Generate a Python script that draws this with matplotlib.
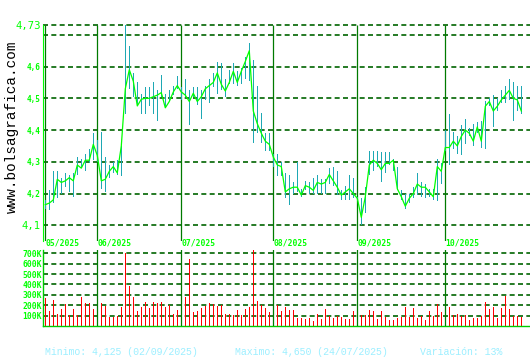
import matplotlib
matplotlib.use("Agg")
from matplotlib import pyplot as plt
from matplotlib.transforms import blended_transform_factory

# daily data, 14/05/2025 .. 28/10/2025
closes = [4.165,
          4.17, 4.18, 4.245, 4.235, 4.24, 4.25, 4.24, 4.29, 4.28, 4.305, 4.305, 4.355,
          4.32, 4.24, 4.245, 4.27, 4.285, 4.265, 4.35, 4.53, 4.59, 4.554, 4.476, 4.497,
          4.50, 4.50, 4.505, 4.51, 4.518, 4.47, 4.49, 4.52, 4.54,
          4.52, 4.51, 4.49, 4.516, 4.49, 4.505, 4.53, 4.54, 4.55, 4.58, 4.544, 4.523,
          4.55, 4.585, 4.55, 4.585, 4.616, 4.65, 4.46, 4.42, 4.39, 4.365, 4.355,
          4.315, 4.29, 4.285, 4.205, 4.215, 4.22, 4.22, 4.195, 4.225, 4.22, 4.21,
          4.235, 4.23, 4.235, 4.26, 4.24, 4.22, 4.195, 4.205, 4.215, 4.2,
          4.185, 4.125, 4.19, 4.29, 4.305, 4.295, 4.275, 4.295, 4.295, 4.305, 4.215,
          4.19, 4.16, 4.185, 4.2, 4.23, 4.22, 4.22, 4.205, 4.19, 4.285, 4.27,
          4.345, 4.345, 4.365, 4.35, 4.38, 4.4, 4.39, 4.365, 4.41, 4.365, 4.475,
          4.49, 4.46, 4.475, 4.495, 4.51, 4.525, 4.5, 4.495, 4.46]
highs = [4.18,
         4.21, 4.27, 4.27, 4.25, 4.265, 4.26, 4.265, 4.315, 4.31, 4.325, 4.34, 4.39,
         4.37, 4.395, 4.315, 4.29, 4.30, 4.305, 4.35, 4.73, 4.665, 4.58, 4.55, 4.515,
         4.535, 4.535, 4.55, 4.525, 4.575, 4.515, 4.525, 4.54, 4.57,
         4.535, 4.56, 4.525, 4.535, 4.535, 4.525, 4.54, 4.56, 4.58, 4.615, 4.61, 4.56,
         4.59, 4.61, 4.585, 4.595, 4.63, 4.675, 4.62, 4.54, 4.455, 4.39, 4.39,
         4.325, 4.325, 4.30, 4.265, 4.26, 4.235, 4.30, 4.215, 4.24, 4.235, 4.25,
         4.26, 4.245, 4.245, 4.28, 4.285, 4.27, 4.21, 4.225, 4.26, 4.25,
         4.19, 4.185, 4.22, 4.335, 4.335, 4.335, 4.33, 4.33, 4.33, 4.31, 4.285,
         4.21, 4.20, 4.2, 4.22, 4.265, 4.235, 4.23, 4.215, 4.215, 4.31, 4.295,
         4.4, 4.45, 4.395, 4.38, 4.415, 4.435, 4.405, 4.42, 4.425, 4.43, 4.49,
         4.5, 4.51, 4.5, 4.525, 4.54, 4.56, 4.55, 4.54, 4.54]
lows = [4.15,
        4.148, 4.17, 4.185, 4.20, 4.22, 4.205, 4.19, 4.26, 4.28, 4.27, 4.295, 4.305,
        4.30, 4.215, 4.205, 4.25, 4.265, 4.26, 4.255, 4.45, 4.53, 4.505, 4.475, 4.45,
        4.45, 4.475, 4.45, 4.43, 4.505, 4.47, 4.49, 4.51, 4.53,
        4.495, 4.505, 4.415, 4.505, 4.48, 4.435, 4.495, 4.485, 4.535, 4.515, 4.525, 4.505,
        4.545, 4.545, 4.54, 4.545, 4.56, 4.555, 4.36, 4.39, 4.36, 4.335, 4.335,
        4.285, 4.255, 4.255, 4.185, 4.165, 4.2, 4.205, 4.19, 4.21, 4.2, 4.2,
        4.2, 4.2, 4.2, 4.23, 4.225, 4.195, 4.18, 4.18, 4.18, 4.185,
        4.175, 4.10, 4.14, 4.26, 4.27, 4.285, 4.235, 4.265, 4.29, 4.27, 4.21,
        4.18, 4.15, 4.17, 4.185, 4.195, 4.19, 4.185, 4.19, 4.18, 4.175, 4.23,
        4.335, 4.29, 4.34, 4.325, 4.32, 4.355, 4.38, 4.35, 4.39, 4.345, 4.34,
        4.475, 4.41, 4.46, 4.485, 4.485, 4.495, 4.43, 4.46, 4.45]
volumes_k = [270, 140, 250, 120, 160, 210, 110, 160, 110, 280, 220, 220, 160,
             130, 220, 190, 90, 90, 100, 180, 700, 380, 280, 140, 180, 230,
             170, 230, 220, 230, 180, 200, 120, 150,
             160, 280, 640, 130, 140, 170, 190, 220, 210, 190, 200, 120, 120,
             110, 150, 110, 160, 180, 730, 240, 200, 170, 130,
             130, 200, 140, 180, 150, 150, 75, 75, 65, 75, 45, 120, 65, 160,
             95, 75, 100, 85, 65, 65, 140,
             120, 110, 110, 150, 140, 65, 140, 85, 55, 55, 75, 85, 180, 85,
             170, 75, 95, 55, 140, 95, 210, 130,
             120, 180, 110, 120, 95, 110, 55, 75, 75, 100, 230, 160, 180, 75,
             170, 290, 160, 100, 95, 85]

month_idx = [0, 13, 34, 57, 78, 100]
month_labels = ["05/2025", "06/2025", "07/2025", "08/2025", "09/2025", "10/2025"]
price_ticks = [4.1, 4.2, 4.3, 4.4, 4.5, 4.6, 4.73]
price_tick_labels = ["4,1", "4,2", "4,3", "4,4", "4,5", "4,6", "4,73"]
vol_ticks = [100, 200, 300, 400, 500, 600, 700]
vol_tick_labels = ["100K", "200K", "300K", "400K", "500K", "600K", "700K"]

GREEN = "#00ff00"
DARK = "#006400"
MONTH = "#007a00"
MONO = "DejaVu Sans Mono"

W, H = 530, 360
fig = plt.figure(figsize=(W / 100, H / 100), dpi=100)
fig.patch.set_facecolor("white")


def px_axes(left, top, right, bottom):
    return fig.add_axes([left / W, (H - bottom) / H, (right - left) / W, (bottom - top) / H])


days = list(range(len(closes)))
xlim = ((43 - 45.3) / 4, (530 - 45.3) / 4)
bar_w = 0.3  # about one pixel

# price panel
ax = px_axes(43, 21, 530, 241)
ax.set_xlim(*xlim)
ybot = 4.1 - 15.7 / 317.5
ax.set_ylim(ybot, 4.73 + 4.3 / 317.5)
for y in [4.1, 4.2, 4.3, 4.4, 4.5, 4.6, 4.7, 4.73]:
    ax.axhline(y, color=DARK, lw=1.2, dashes=(3, 2), zorder=1)
ax.vlines(month_idx, ybot, 4.73, color=MONTH, lw=0.9, zorder=2)
ranges = [h - l for h, l in zip(highs, lows)]
ax.bar(days, ranges, bottom=lows, width=bar_w, color="#1ea8b4", linewidth=0,
       antialiased=False, zorder=3)
ax.plot(days, closes, color=GREEN, lw=0.9, zorder=4)

for s in ["top", "right", "bottom"]:
    ax.spines[s].set_visible(False)
ax.spines["left"].set_color(GREEN)
ax.spines["left"].set_linewidth(0.8)
ax.spines["left"].set_bounds(ybot, 4.73)
ax.set_xticks([])
ax.set_yticks(price_ticks)
ax.set_yticklabels(price_tick_labels)
ax.tick_params(axis="y", length=0, pad=1.6, colors=GREEN)
for lbl in ax.get_yticklabels():
    lbl.set_family(MONO)
    if lbl.get_text() in ("4,1", "4,73"):
        lbl.set_fontsize(7.6)
    else:
        lbl.set_fontsize(5.6)
        lbl.set_fontweight("bold")

trans = blended_transform_factory(ax.transData, fig.transFigure)
for m, lab in zip(month_idx, month_labels):
    ax.text(m + 0.05, (H - 243.5) / H, lab, transform=trans, color=GREEN,
            fontsize=5.8, family=MONO, fontweight="bold", ha="left", va="center",
            clip_on=False)

# volume panel
av = px_axes(43, 250, 530, 326)
av.set_xlim(*xlim)
av.set_ylim(0, 76 / 10.4 * 100)
for y in vol_ticks:
    av.axhline(y, color=DARK, lw=1.2, dashes=(3, 2), zorder=1)
for m in month_idx[1:]:
    av.axvline(m, color=MONTH, lw=0.9, zorder=3)
av.bar(days, volumes_k, width=bar_w, color="#ff0000", linewidth=0,
       antialiased=False, zorder=2)
for s in ["top", "right"]:
    av.spines[s].set_visible(False)
for s in ["left", "bottom"]:
    av.spines[s].set_color("#00cc00")
    av.spines[s].set_linewidth(1.0)
av.set_xticks([])
av.set_yticks(vol_ticks)
av.set_yticklabels(vol_tick_labels)
av.tick_params(axis="y", length=0, pad=0.6, colors=GREEN)
for lbl in av.get_yticklabels():
    lbl.set_fontsize(5.8)
    lbl.set_family(MONO)
    lbl.set_fontweight("bold")

# watermark and footer
fig.text(12 / W, (H - 127) / H, "www.bolsagrafica.com", rotation=90, color="black",
         fontsize=10.4, family="Liberation Mono", ha="center", va="center")
footer = [(44.7, "Minimo: 4,125 (02/09/2025)"),
          (234.8, "Maximo: 4,650 (24/07/2025)"),
          (420.2, "Variación: 13%")]
for x, txt in footer:
    fig.text(x / W, (H - 352) / H, txt, color="#9cefff", fontsize=7.1,
             family="Liberation Mono", ha="left", va="center")

fig.savefig("out.png", dpi=100, facecolor="white")
